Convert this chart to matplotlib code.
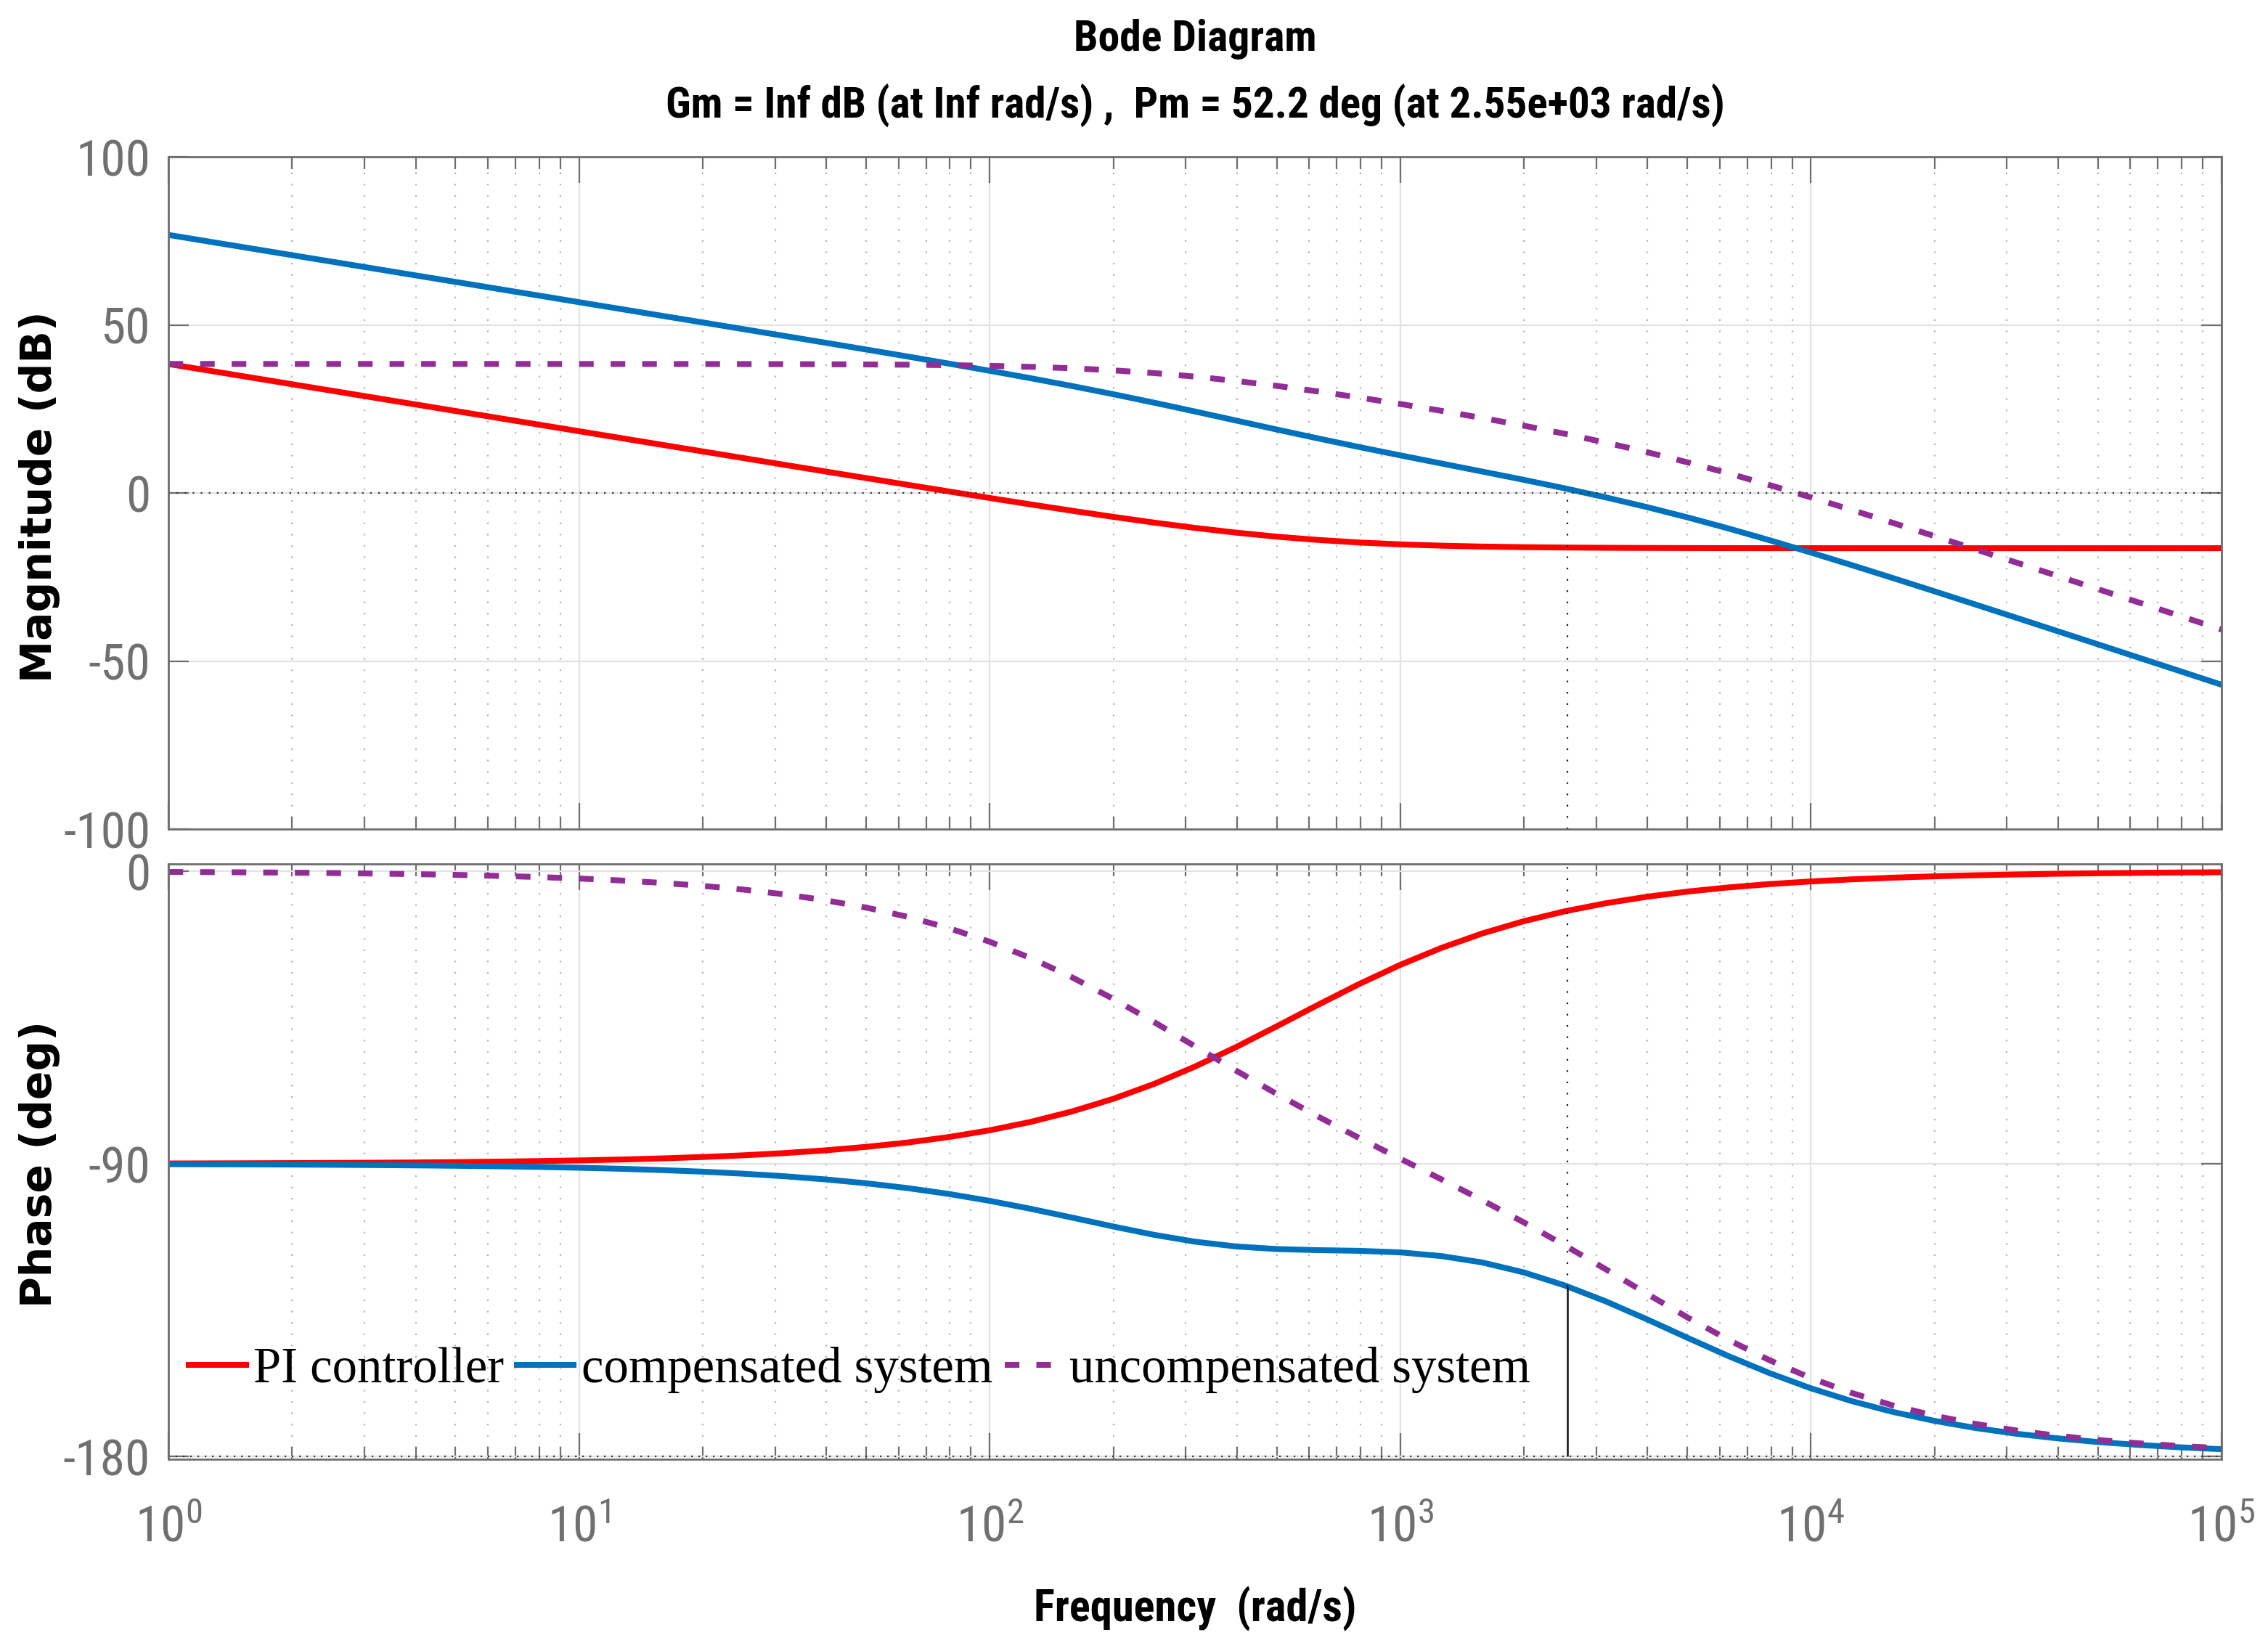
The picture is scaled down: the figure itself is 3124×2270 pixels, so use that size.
import matplotlib.pyplot as plt
from matplotlib.ticker import FixedLocator, NullFormatter

plt.rcParams['font.family'] = ['Roboto Condensed', 'Liberation Sans', 'DejaVu Sans']
plt.rcParams['axes.unicode_minus'] = False

# frequency samples (rad/s), read every 0.1 decade
freq = [1, 1.259, 1.585, 1.995, 2.512, 3.162, 3.981, 5.012, 6.310, 7.943,
        10, 12.59, 15.85, 19.95, 25.12, 31.62, 39.81, 50.12, 63.10, 79.43,
        100, 125.9, 158.5, 199.5, 251.2, 316.2, 398.1, 501.2, 631.0, 794.3,
        1000, 1259, 1585, 1995, 2512, 3162, 3981, 5012, 6310, 7943,
        10000, 12589, 15849, 19953, 25119, 31623, 39811, 50119, 63096, 79433,
        100000]

# magnitude (dB)
mag_pi = [38.38, 36.38, 34.38, 32.38, 30.38, 28.38, 26.38, 24.38, 22.38, 20.38,
          18.38, 16.38, 14.38, 12.39, 10.39, 8.39, 6.40, 4.42, 2.44, 0.47,
          -1.48, -3.40, -5.27, -7.08, -8.80, -10.38, -11.79, -13.00, -13.97, -14.73,
          -15.28, -15.67, -15.94, -16.11, -16.23, -16.30, -16.35, -16.38, -16.40, -16.41,
          -16.42, -16.42, -16.42, -16.42, -16.42, -16.42, -16.42, -16.42, -16.42, -16.42,
          -16.42]
mag_comp = [76.78, 74.78, 72.78, 70.78, 68.78, 66.78, 64.78, 62.78, 60.78, 58.78,
            56.77, 54.77, 52.76, 50.77, 48.75, 46.73, 44.71, 42.67, 40.61, 38.51,
            36.36, 34.14, 31.84, 29.42, 26.88, 24.25, 21.56, 18.86, 16.23, 13.67,
            11.20, 8.78, 6.37, 3.94, 1.40, -1.29, -4.17, -7.27, -10.58, -14.07,
            -17.72, -21.48, -25.32, -29.21, -33.15, -37.10, -41.08, -45.06, -49.05, -53.04,
            -57.04]
mag_unc = [38.40, 38.40, 38.40, 38.40, 38.40, 38.40, 38.40, 38.40, 38.40, 38.40,
           38.39, 38.39, 38.38, 38.38, 38.36, 38.34, 38.31, 38.25, 38.17, 38.04,
           37.84, 37.54, 37.11, 36.50, 35.68, 34.63, 33.35, 31.86, 30.20, 28.40,
           26.48, 24.45, 22.31, 20.05, 17.63, 15.01, 12.18, 9.11, 5.82, 2.34,
           -1.30, -5.06, -8.90, -12.79, -16.73, -20.68, -24.66, -28.64, -32.63, -36.62,
           -40.62]

# phase (deg)
ph_pi = [-89.90, -89.87, -89.83, -89.79, -89.74, -89.67, -89.59, -89.48, -89.34, -89.17,
         -88.96, -88.69, -88.35, -87.92, -87.39, -86.71, -85.86, -84.79, -83.46, -81.78,
         -79.70, -77.11, -73.92, -70.06, -65.45, -60.10, -54.10, -47.65, -41.08, -34.70,
         -28.81, -23.60, -19.13, -15.41, -12.35, -9.87, -7.87, -6.26, -4.98, -3.96,
         -3.15, -2.50, -1.99, -1.58, -1.25, -1.00, -0.79, -0.63, -0.50, -0.40,
         -0.32]
ph_comp = [-90.13, -90.15, -90.19, -90.24, -90.31, -90.39, -90.49, -90.61, -90.77, -90.96,
           -91.22, -91.53, -91.93, -92.42, -93.05, -93.83, -94.80, -96.00, -97.48, -99.27,
           -101.40, -103.85, -106.53, -109.27, -111.84, -113.96, -115.43, -116.23, -116.57, -116.77,
           -117.25, -118.38, -120.36, -123.38, -127.40, -132.29, -137.80, -143.56, -149.19, -154.42,
           -159.06, -163.02, -166.34, -169.05, -171.25, -173.03, -174.45, -175.59, -176.49, -177.22,
           -177.79]
ph_unc = [-0.23, -0.28, -0.36, -0.45, -0.57, -0.72, -0.90, -1.13, -1.43, -1.79,
          -2.26, -2.84, -3.58, -4.50, -5.66, -7.12, -8.94, -11.21, -14.02, -17.49,
          -21.70, -26.74, -32.61, -39.21, -46.39, -53.86, -61.33, -68.58, -75.49, -82.07,
          -88.44, -94.78, -101.23, -107.97, -115.05, -122.42, -129.93, -137.30, -144.21, -150.46,
          -155.91, -160.52, -164.35, -167.47, -170.00, -172.03, -173.66, -174.96, -175.99, -176.82,
          -177.47]

# stability margins
wc = 2550
pm = 52.2

mag_ticks = [-100, -50, 0, 50, 100]
ph_ticks = [-180, -90, 0]

c_red = '#ff0000'
c_blue = '#0072bd'
c_purple = '#922d96'
axis_gray = '#6e6e6e'
lw = 2.9

fig = plt.figure(figsize=(15.62, 11.35), dpi=200)
ax_mag = fig.add_axes([0.0743, 0.4969, 0.9052, 0.4079])
ax_ph = fig.add_axes([0.0743, 0.1145, 0.9052, 0.3612])

for ax in (ax_mag, ax_ph):
    ax.set_xscale('log')
    ax.set_xlim(1, 1e5)
    ax.grid(which='major', color='#e2e2e2', lw=0.8, ls='-')
    ax.grid(which='minor', axis='x', color='#b4b4b4', lw=0.8, ls=(0, (1, 6)))
    ax.tick_params(which='both', direction='in', top=True, right=True,
                   color=axis_gray, labelcolor='#707070', labelsize=25, width=0.8)
    ax.tick_params(axis='x', which='major', length=13, pad=22)
    ax.tick_params(axis='x', which='minor', length=6)
    ax.tick_params(axis='y', which='major', length=10, pad=9)
    ax.xaxis.set_minor_formatter(NullFormatter())
    for sp in ax.spines.values():
        sp.set_color(axis_gray)
        sp.set_linewidth(1.0)

# magnitude
ax_mag.plot(freq, mag_pi, color=c_red, lw=lw)
ax_mag.plot(freq, mag_comp, color=c_blue, lw=lw)
ax_mag.plot(freq, mag_unc, color=c_purple, lw=lw, dashes=(2.5, 2.9))
ax_mag.axhline(0, color='#333333', lw=0.8, ls=(0, (1, 4)))
ax_mag.vlines(wc, -100, 0, color='#111111', lw=0.8, ls=(0, (1, 6)))
ax_mag.set_ylim(-100, 100)
ax_mag.yaxis.set_major_locator(FixedLocator(mag_ticks))
ax_mag.tick_params(labelbottom=False)

# phase
ax_ph.plot(freq, ph_pi, color=c_red, lw=lw, label='PI controller')
ax_ph.plot(freq, ph_comp, color=c_blue, lw=lw, label='compensated system')
ax_ph.plot(freq, ph_unc, color=c_purple, lw=lw, dashes=(2.5, 2.9), label='uncompensated system')
ax_ph.axhline(-180, color='#333333', lw=0.8, ls=(0, (1, 3.5)))
ax_ph.vlines(wc, pm - 180, 2.2, color='#111111', lw=0.8, ls=(0, (1, 6)))
ax_ph.vlines(wc, -180, pm - 180, color='#111111', lw=0.9)
ax_ph.set_ylim(-180.9, 2.2)
ax_ph.yaxis.set_major_locator(FixedLocator(ph_ticks))

ax_ph.legend(ncol=3, loc='center left', bbox_to_anchor=(0.0099, 0.15), frameon=False,
             prop={'family': 'Liberation Serif', 'size': 24.7},
             handlelength=1.15, handletextpad=0.15, columnspacing=0.25,
             borderpad=0, borderaxespad=0)

# titles and labels
fig.text(0.527, 0.976, 'Bode Diagram', ha='center', va='center', size=21.5, weight='bold')
fig.text(0.527, 0.9357, 'Gm = Inf dB (at Inf rad/s) ,  Pm = 52.2 deg (at 2.55e+03 rad/s)',
         ha='center', va='center', size=21.3, weight='bold')
fig.text(0.527, 0.0238, 'Frequency  (rad/s)', ha='center', va='center', size=21.8, weight='bold')
fig.text(0.0173, 0.6987, 'Magnitude (dB)', rotation=90, ha='center', va='center',
         family='DejaVu Sans', weight='bold', size=21)
fig.text(0.0173, 0.2934, 'Phase (deg)', rotation=90, ha='center', va='center',
         family='DejaVu Sans', weight='bold', size=21)

fig.savefig('out.png', dpi=200)
